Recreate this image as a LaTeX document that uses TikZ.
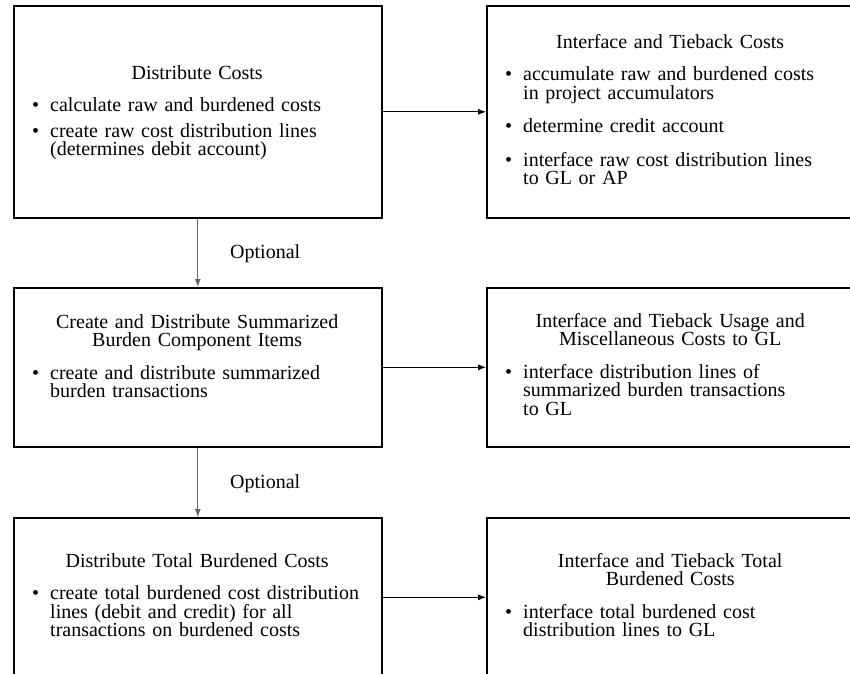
\documentclass[tikz,border=0pt]{standalone}
\usepackage{fontspec}
\setmainfont{Liberation Serif}
\usetikzlibrary{arrows.meta}

\newcommand{\bodyfont}{\fontsize{20}{18.5}\selectfont}

% bulleted points inside a stage box; #1 = extra space between points
\newenvironment{pointlist}[1]{%
  \begin{list}{\textbullet}{%
    \setlength{\leftmargin}{23pt}\setlength{\labelwidth}{12pt}%
    \setlength{\labelsep}{11pt}\setlength{\rightmargin}{-30pt}%
    \setlength{\topsep}{0pt}\setlength{\partopsep}{0pt}%
    \setlength{\parsep}{0pt}\setlength{\itemsep}{#1}}\raggedright}%
  {\end{list}}
\newcommand{\stagetitle}[1]{{\centering #1\par}\vspace{14pt}}

\begin{document}
\begin{tikzpicture}[x=1pt,y=-1pt,
  stage/.style={draw, line width=1.6pt, minimum width=368pt, minimum height=#1,
    inner sep=0pt, anchor=north west},
  body/.style={anchor=north west, inner sep=0pt, text width=340pt, font=\bodyfont},
  link/.style={-{Latex[length=8pt,width=6pt]}, line width=0.8pt},
  downlink/.style={link, draw=black!60, fill=black},
  note/.style={font=\bodyfont, inner sep=0pt, anchor=west}]

\path[use as bounding box, fill=white] (0,0) rectangle (850,673);
\clip (0,0) rectangle (850,673);

% stage boxes
\node[stage=212pt] (b1) at (13,5) {};
\node[stage=212pt] (b2) at (486,5) {};
\node[stage=159pt] (b3) at (13,287) {};
\node[stage=159pt] (b4) at (486,287) {};
\node[stage=159pt] (b5) at (13,517) {};
\node[stage=159pt] (b6) at (486,517) {};

% box contents
\node[body] (t1) at ([xshift=14pt,yshift=-60pt]b1.north west) {%
  \stagetitle{Distribute Costs}
  \begin{pointlist}{7pt}
  \item calculate raw and burdened costs
  \item create raw cost distribution lines\newline (determines debit account)
  \end{pointlist}};

\node[body] (t2) at ([xshift=14pt,yshift=-29pt]b2.north west) {%
  \stagetitle{Interface and Tieback Costs}
  \begin{pointlist}{15pt}
  \item accumulate raw and burdened costs\newline in project accumulators
  \item determine credit account
  \item interface raw cost distribution lines\newline to GL or AP
  \end{pointlist}};

\node[body] (t3) at ([xshift=14pt,yshift=-27pt]b3.north west) {%
  \stagetitle{Create and Distribute Summarized\\ Burden Component Items}
  \begin{pointlist}{8pt}
  \item create and distribute summarized\newline burden transactions
  \end{pointlist}};

\node[body] (t4) at ([xshift=14pt,yshift=-26pt]b4.north west) {%
  \stagetitle{Interface and Tieback Usage and\\ Miscellaneous Costs to GL}
  \begin{pointlist}{8pt}
  \item interface distribution lines of\newline summarized burden transactions\newline to GL
  \end{pointlist}};

\node[body] (t5) at ([xshift=14pt,yshift=-36pt]b5.north west) {%
  \stagetitle{Distribute Total Burdened Costs}
  \begin{pointlist}{8pt}
  \item create total burdened cost distribution\newline lines (debit and credit) for all\newline transactions on burdened costs
  \end{pointlist}};

\node[body] (t6) at ([xshift=14pt,yshift=-36pt]b6.north west) {%
  \stagetitle{Interface and Tieback Total\\ Burdened Costs}
  \begin{pointlist}{8pt}
  \item interface total burdened cost\newline distribution lines to GL
  \end{pointlist}};

% connectors
\draw[link] (b1) -- (b2);
\draw[link] (b3) -- (b4);
\draw[link] (b5) -- (b6);
\draw[downlink] (b1) -- (b3);
\draw[downlink] (b3) -- (b5);

\node[note] (o1) at (230,254) {Optional};
\node[note] (o2) at (230,484) {Optional};
\end{tikzpicture}
\end{document}
